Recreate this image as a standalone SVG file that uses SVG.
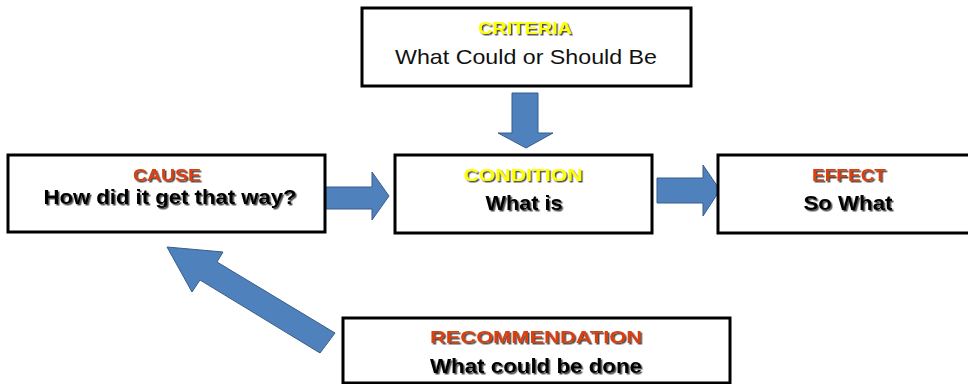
<svg xmlns="http://www.w3.org/2000/svg" width="968" height="384" viewBox="0 0 968 384">
<defs>
<filter id="sh" x="-10%" y="-30%" width="120%" height="160%">
<feDropShadow dx="1.5" dy="1.5" stdDeviation="0.4" flood-color="#3a3a3a" flood-opacity="0.9"/>
</filter>
</defs>
<style>
.box{fill:#fff;stroke:#000;stroke-width:3}
.arr{fill:#4F81BD;stroke:#385D8A;stroke-width:1}
.hd{font-family:"Liberation Sans",Arial,sans-serif;font-weight:bold;font-size:17px;text-anchor:middle;filter:url(#sh)}
.bd{font-family:"Liberation Sans",Arial,sans-serif;font-weight:bold;font-size:21px;text-anchor:middle;fill:#000;filter:url(#sh)}
.rg{font-family:"Liberation Sans",Arial,sans-serif;font-size:21px;text-anchor:middle;fill:#111}
.y{fill:#FFFF00}
.r{fill:#D9400F}
</style>
<rect width="968" height="384" fill="#fff"/>
<g id="connectors">
<path class="arr" d="M512,93 H538 V133 H553 L526,148 L498,133 H512 Z"/>
<path class="arr" d="M325,187 H372 V172 L389,196 L372,220 V209 H325 Z"/>
<path class="arr" d="M657,178 H703 V165 L720,190 L703,216 V203 H657 Z"/>
<path class="arr" d="M167,247 L223,252 L217,262 L335,333 L320,353 L200,280 L192,292 Z"/>
</g>
<g id="criteria">
<rect class="box" x="362" y="8" width="329" height="78"/>
<text class="hd y" x="525" y="34" textLength="94" lengthAdjust="spacingAndGlyphs">CRITERIA</text>
<text class="rg" x="526" y="64" textLength="262" lengthAdjust="spacingAndGlyphs">What Could or Should Be</text>
</g>
<g id="cause">
<rect class="box" x="8" y="155" width="317" height="77"/>
<text class="hd r" x="167" y="181" textLength="68" lengthAdjust="spacingAndGlyphs">CAUSE</text>
<text class="bd" x="170" y="204" textLength="253" lengthAdjust="spacingAndGlyphs">How did it get that way?</text>
</g>
<g id="condition">
<rect class="box" x="395" y="155" width="257" height="78"/>
<text class="hd y" x="523" y="181" textLength="119" lengthAdjust="spacingAndGlyphs">CONDITION</text>
<text class="bd" x="524" y="210" textLength="77" lengthAdjust="spacingAndGlyphs">What is</text>
</g>
<g id="effect">
<rect class="box" x="718" y="155" width="263" height="78"/>
<text class="hd r" x="849" y="181" textLength="74" lengthAdjust="spacingAndGlyphs">EFFECT</text>
<text class="bd" x="848" y="210" textLength="89" lengthAdjust="spacingAndGlyphs">So What</text>
</g>
<g id="recommendation">
<rect class="box" x="343" y="318" width="387" height="65"/>
<text class="hd r" x="536" y="343" textLength="212" lengthAdjust="spacingAndGlyphs">RECOMMENDATION</text>
<text class="bd" x="536" y="373" textLength="212" lengthAdjust="spacingAndGlyphs">What could be done</text>
</g>
</svg>
